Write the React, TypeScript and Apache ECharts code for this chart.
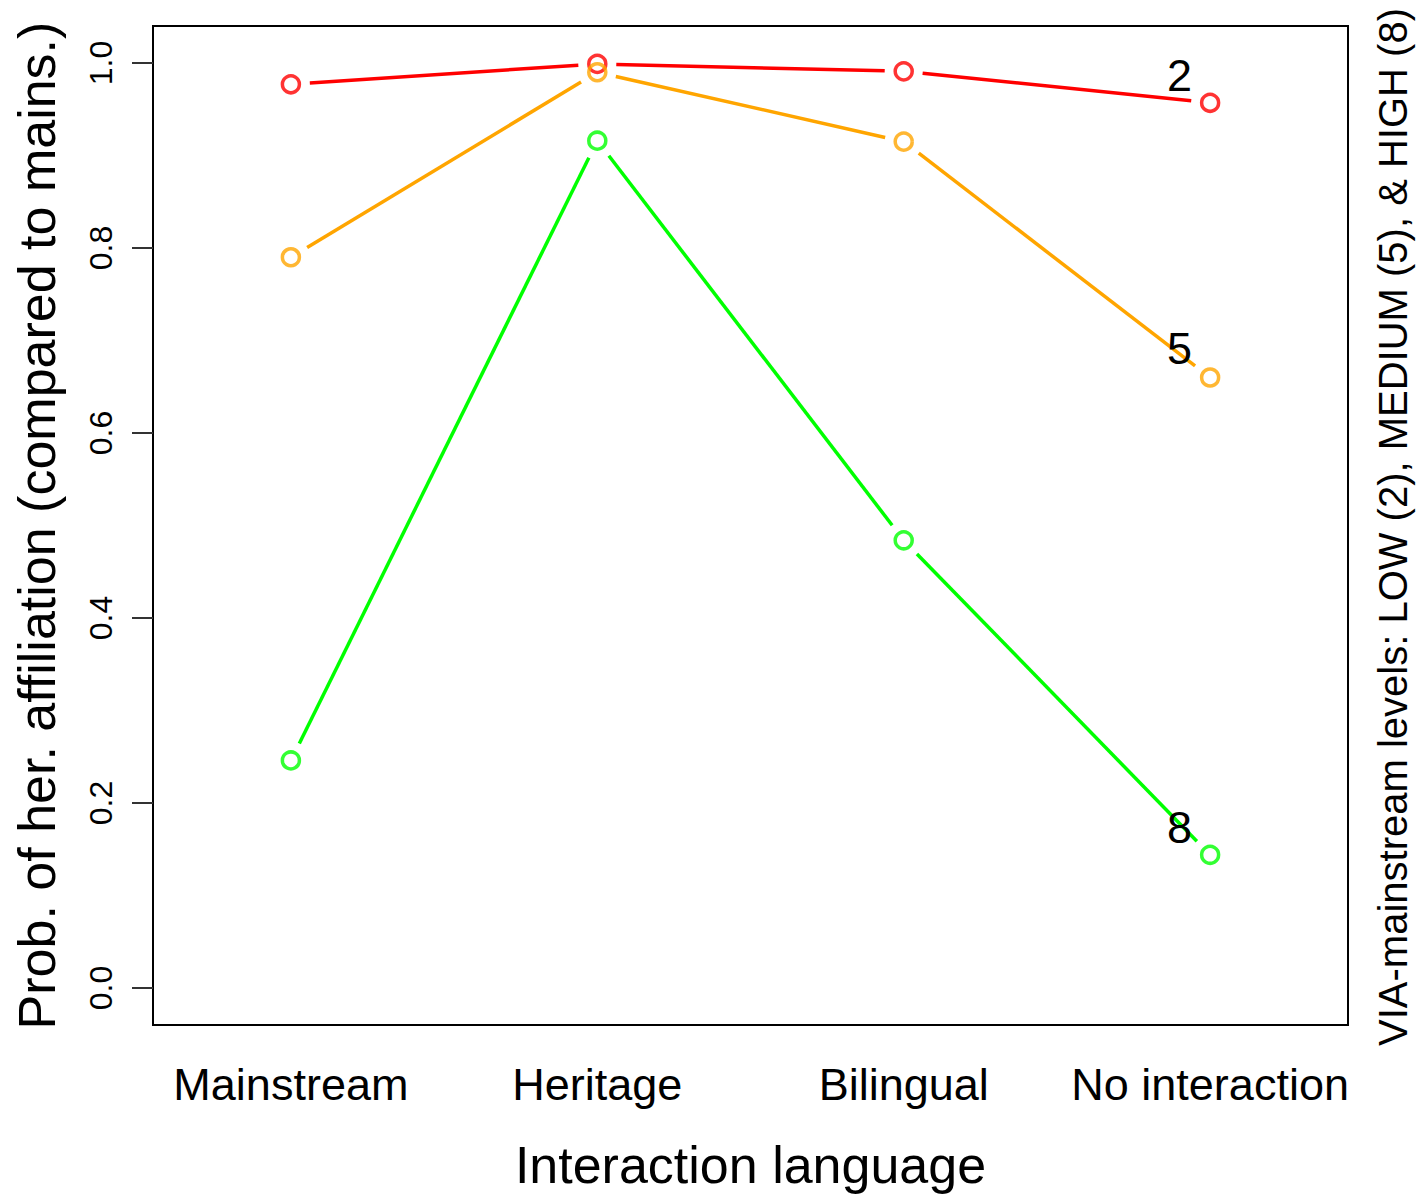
import React, { useEffect, useRef } from "react";
import * as echarts from "echarts";

const categories = ["Mainstream", "Heritage", "Bilingual", "No interaction"];
const lowValues = [0.977, 0.999, 0.991, 0.957];
const mediumValues = [0.79, 0.99, 0.915, 0.66];
const highValues = [0.246, 0.916, 0.484, 0.144];
const levelLabels = ["2", "5", "8"];
const levelLabelX = [3.9, 3.9, 3.9];
const levelLabelY = [0.987, 0.691, 0.173];
const yTicks = [0, 0.2, 0.4, 0.6, 0.8, 1.0];
const xTicks = [1, 2, 3, 4];

const FONT = "'Liberation Sans', Arial, Helvetica, sans-serif";
const GAP = 19;

function segmentsOf(values: number[]) {
  const segs: number[][] = [];
  for (let i = 0; i < values.length - 1; i++) {
    segs.push([i + 1, values[i], i + 2, values[i + 1]]);
  }
  return segs;
}

function lineSeries(values: number[], color: string) {
  return {
    type: "custom",
    data: segmentsOf(values),
    encode: { x: [0, 2], y: [1, 3] },
    z: 2,
    renderItem: (params: any, api: any) => {
      const p1 = api.coord([api.value(0), api.value(1)]);
      const p2 = api.coord([api.value(2), api.value(3)]);
      const dx = p2[0] - p1[0];
      const dy = p2[1] - p1[1];
      const len = Math.sqrt(dx * dx + dy * dy);
      if (len <= 2 * GAP) return { type: "group", children: [] };
      const ux = dx / len;
      const uy = dy / len;
      return {
        type: "line",
        shape: {
          x1: p1[0] + ux * GAP,
          y1: p1[1] + uy * GAP,
          x2: p2[0] - ux * GAP,
          y2: p2[1] - uy * GAP,
        },
        style: { stroke: color, lineWidth: 3.5 },
      };
    },
  };
}

function pointSeries(values: number[], color: string) {
  return {
    type: "scatter",
    data: values.map((v, i) => [i + 1, v]),
    symbol: "circle",
    symbolSize: 17,
    z: 3,
    itemStyle: { color: "rgba(0,0,0,0)", borderColor: color, borderWidth: 3.5 },
  };
}

export default function App() {
  const ref = useRef<HTMLDivElement>(null);
  useEffect(() => {
    if (!ref.current) return;
    const chart = echarts.init(ref.current, undefined, { renderer: "svg" });
    chart.setOption({
      animation: false,
      backgroundColor: "#ffffff",
      grid: {
        left: 153,
        top: 26,
        right: 78,
        bottom: 170,
        show: true,
        borderColor: "#000",
        borderWidth: 2,
        backgroundColor: "transparent",
      },
      xAxis: {
        type: "value",
        min: 0.55,
        max: 4.45,
        splitLine: { show: false },
        axisLine: { show: false },
        axisTick: { show: false },
        axisLabel: {
          customValues: xTicks,
          formatter: (v: number) => categories[Math.round(v) - 1] ?? "",
          fontSize: 45,
          fontFamily: FONT,
          color: "#000",
          margin: 37,
        },
        name: "Interaction language",
        nameLocation: "middle",
        nameGap: 114,
        nameTextStyle: { fontSize: 52, fontFamily: FONT, color: "#000" },
      },
      yAxis: {
        type: "value",
        min: -0.04,
        max: 1.04,
        splitLine: { show: false },
        axisLine: { show: false },
        axisTick: {
          show: true,
          customValues: yTicks,
          length: 21,
          lineStyle: { color: "#333", width: 2 },
        },
        axisLabel: {
          customValues: yTicks,
          formatter: (v: number) => v.toFixed(1),
          rotate: 90,
          fontSize: 32,
          fontFamily: FONT,
          color: "#000",
          margin: 36,
        },
        name: "Prob. of her. affiliation (compared to mains.)",
        nameLocation: "middle",
        nameRotate: 90,
        nameGap: 90,
        nameTextStyle: { fontSize: 52, fontFamily: FONT, color: "#000" },
      },
      graphic: [
        {
          type: "text",
          x: 1393,
          y: 527,
          rotation: Math.PI / 2,
          style: {
            text: "VIA-mainstream levels: LOW (2), MEDIUM (5), & HIGH (8)",
            fontSize: 40,
            fontFamily: FONT,
            fill: "#000",
            align: "center",
            verticalAlign: "middle",
          },
        },
      ],
      series: [
        lineSeries(lowValues, "#FF0000"),
        lineSeries(mediumValues, "#FFA500"),
        lineSeries(highValues, "#00FF00"),
        pointSeries(lowValues, "#FF0000"),
        pointSeries(mediumValues, "#FFA500"),
        pointSeries(highValues, "#00FF00"),
        {
          type: "scatter",
          data: levelLabels.map((t, i) => [levelLabelX[i], levelLabelY[i], t]),
          symbolSize: 1,
          itemStyle: { color: "rgba(0,0,0,0)" },
          z: 4,
          label: {
            show: true,
            position: "inside",
            formatter: (p: any) => p.value[2],
            fontSize: 45,
            fontFamily: FONT,
            color: "#000000",
            opacity: 1,
            textBorderWidth: 0,
            textBorderColor: "transparent",
          },
        },
      ],
    });
    return () => chart.dispose();
  }, []);
  return (
    <div
      ref={ref}
      style={{ position: "fixed", left: 0, top: 0, width: 1426, height: 1196 }}
    />
  );
}
